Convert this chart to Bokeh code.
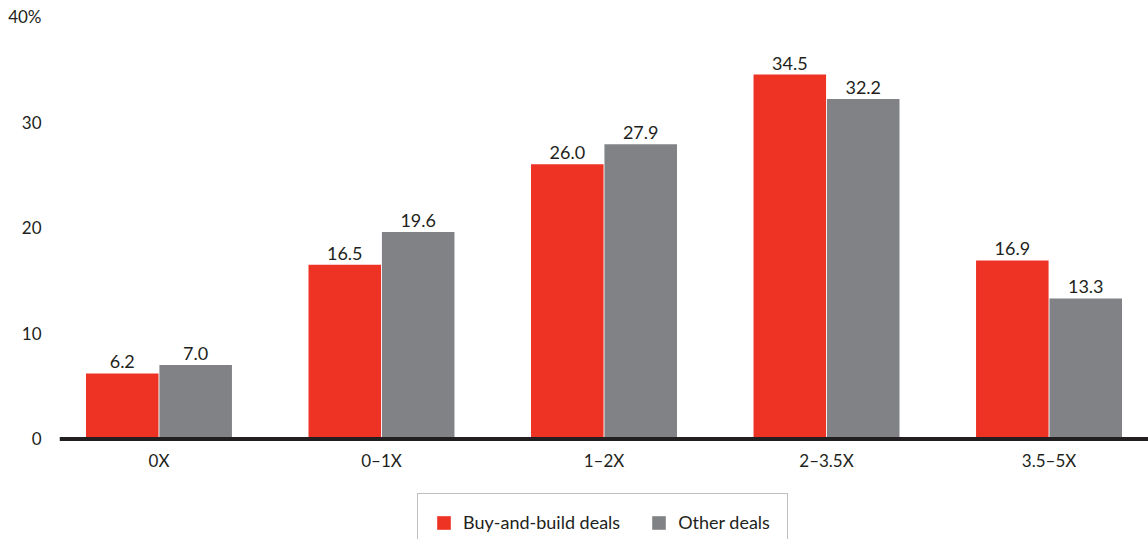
from bokeh.plotting import figure
from bokeh.models import ColumnDataSource, FactorRange, Range1d, Legend, LegendItem, FixedTicker, Span
from bokeh.transform import dodge
from bokeh.core.properties import value
from bokeh.embed import file_html
from bokeh.resources import INLINE

categories = ["0X", "0\u20131X", "1\u20132X", "2\u20133.5X", "3.5\u20135X"]
buy_and_build = [6.2, 16.5, 26.0, 34.5, 16.9]
other_deals = [7.0, 19.6, 27.9, 32.2, 13.3]
y_ticks = [0, 10, 20, 30, 40]

RED = "#EE3224"
GRAY = "#808285"
DARK = "#231F20"
FONT = "Lato"

src = ColumnDataSource(dict(
    cat=categories,
    base=[0] * len(categories),
    buy=buy_and_build,
    other=other_deals,
    buy_txt=[f"{v:.1f}" for v in buy_and_build],
    other_txt=[f"{v:.1f}" for v in other_deals],
))

p = figure(
    width=1148, height=539,
    x_range=FactorRange(factors=categories, range_padding=-0.053, range_padding_units="absolute"),
    y_range=Range1d(-9.52, 40),
    output_backend="svg", toolbar_location=None,
    min_border_left=59, min_border_right=0, min_border_top=16, min_border_bottom=0,
)
p.outline_line_color = None
p.xgrid.grid_line_color = None
p.ygrid.grid_line_color = None
p.xaxis.visible = False

off = 0.165
w = 0.326
r1 = p.vbar(x=dodge("cat", -off, range=p.x_range), top="buy", width=w, bottom=0,
            source=src, fill_color=RED, line_color=None)
r2 = p.vbar(x=dodge("cat", off, range=p.x_range), top="other", width=w, bottom=0,
            source=src, fill_color=GRAY, line_color=None)

for col, txt, dx in (("buy", "buy_txt", -off), ("other", "other_txt", off)):
    p.text(x=dodge("cat", dx, range=p.x_range), y=col, text=txt, source=src,
           text_align="center", text_baseline="bottom", y_offset=-5,
           text_font=value(FONT), text_font_size="18px", text_color=DARK)

# baseline at zero
p.add_layout(Span(location=0, dimension="width", line_color=DARK, line_width=4))

# category labels below the baseline
p.text(x="cat", y="base", text="cat", source=src, text_align="center",
       text_baseline="middle", y_offset=22,
       text_font=value(FONT), text_font_size="17px", text_color=DARK)

ya = p.yaxis[0]
ya.ticker = FixedTicker(ticks=y_ticks)
ya.axis_line_color = None
ya.major_tick_line_color = None
ya.minor_tick_line_color = None
ya.major_label_standoff = 12
ya.major_label_overrides = {40: "40%"}
ya.major_label_text_font = FONT
ya.major_label_text_font_size = "17px"
ya.major_label_text_color = DARK

legend = Legend(
    items=[LegendItem(label="Buy-and-build deals", renderers=[r1]),
           LegendItem(label="Other deals", renderers=[r2])],
    orientation="horizontal", location=(358, -12),
    glyph_width=17, glyph_height=17, label_height=17,
    label_standoff=11, spacing=30, padding=17, margin=0,
    label_text_font=FONT, label_text_font_size="18px", label_text_color=DARK,
    border_line_color="#7F7F7F", border_line_width=1,
    background_fill_alpha=1,
)
p.add_layout(legend, "center")

open("out.html", "w").write(file_html(p, INLINE))
